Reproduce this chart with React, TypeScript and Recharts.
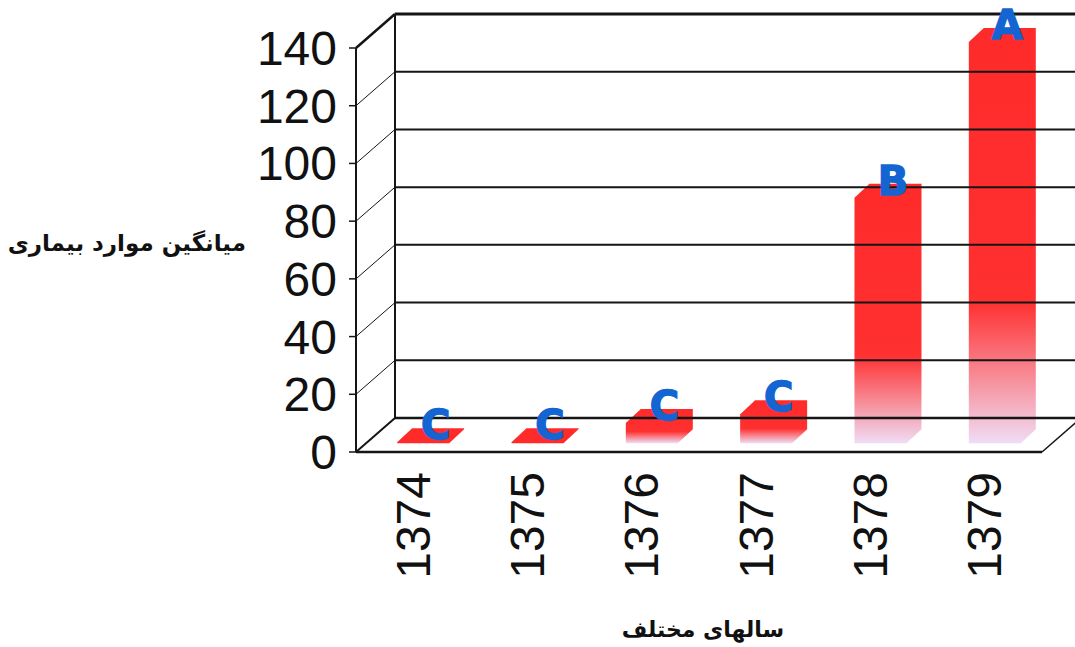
import { BarChart, Bar, XAxis, YAxis, ReferenceLine, ReferenceArea, LabelList } from 'recharts';

const years = ['1374', '1375', '1376', '1377', '1378', '1379'];
const meanCases = [0.3, 0.3, 7, 10, 85, 139];
const groups = ['C', 'C', 'C', 'C', 'B', 'A'];
const yTicks = [0, 20, 40, 60, 80, 100, 120, 140];

const data = years.map((year, i) => ({ year, mean: meanCases[i], group: groups[i] }));

// fake perspective: back wall offset, and where the bars sit in depth
const DX = 39;
const DY = -34;
const FRONT = 0.26;
const BAR_DX = 15;
const BAR_DY = -14;

const LINE = '#151515';

function renderGrid(p: any, v: number) {
  const { x1, y1, x2 } = p;
  const bx1 = x1 + DX;
  const bx2 = x2 + DX;
  const by = y1 + DY;
  if (v === 0) {
    return (
      <g>
        <line x1={x1} y1={y1} x2={x2} y2={y1} stroke={LINE} strokeWidth={2.5} />
        <line x1={x1} y1={y1} x2={bx1} y2={by} stroke={LINE} strokeWidth={2} />
        <line x1={x2} y1={y1} x2={bx2} y2={by} stroke={LINE} strokeWidth={1.5} />
        <line x1={bx1} y1={by} x2={bx2} y2={by} stroke={LINE} strokeWidth={2.5} />
      </g>
    );
  }
  const top = v === yTicks[yTicks.length - 1];
  return (
    <g>
      <line x1={x1} y1={y1} x2={bx1} y2={by} stroke={LINE} strokeWidth={top ? 2.5 : 1} />
      <line x1={bx1} y1={by} x2={bx2} y2={by} stroke={LINE} strokeWidth={top ? 3 : 2} />
    </g>
  );
}

function BackWall(p: any) {
  const { x, y, height } = p;
  return (
    <line x1={x + DX} y1={y + DY} x2={x + DX} y2={y + height + DY} stroke={LINE} strokeWidth={2} />
  );
}

function Bar3D(props: any) {
  const { x, y, width, height, index } = props;
  const fx = x + FRONT * DX;
  const ft = y + FRONT * DY;
  const fb = y + height + FRONT * DY;
  const pts = [
    [fx, fb],
    [fx, ft],
    [fx + BAR_DX, ft + BAR_DY],
    [fx + width + BAR_DX, ft + BAR_DY],
    [fx + width + BAR_DX, fb + BAR_DY],
    [fx + width, fb],
  ];
  const id = `bar3d-${index}`;
  const flat = height < 3;
  return (
    <g>
      <defs>
        <linearGradient id={id} x1="0" y1="0" x2="0" y2="1">
          <stop offset="0" stopColor="#ff2b2b" />
          <stop offset="0.66" stopColor="#ff3030" />
          <stop offset="0.88" stopColor="#f5a0ae" />
          <stop offset="1" stopColor="#f0dcf5" />
        </linearGradient>
      </defs>
      <polygon points={pts.map((pt) => pt.join(',')).join(' ')} fill={flat ? '#ff2b2b' : `url(#${id})`} />
    </g>
  );
}

function renderLetter(props: any) {
  const { x, y, width, value } = props;
  const cx = x + FRONT * DX + width / 2 + BAR_DX / 2 + 5;
  const cy = y + FRONT * DY + BAR_DY / 2;
  return (
    <text
      x={cx}
      y={cy + 4}
      textAnchor="middle"
      fontFamily="DejaVu Sans"
      fontWeight="bold"
      fontSize={40}
      fill="#1464d2"
      stroke="#1464d2"
      strokeWidth={1.5}
    >
      {value}
    </text>
  );
}

function YearTick(props: any) {
  const { x, y, payload } = props;
  return (
    <text
      x={x}
      y={y}
      transform={`rotate(-90, ${x}, ${y})`}
      textAnchor="end"
      dominantBaseline="central"
      fontFamily="Liberation Sans, Arial"
      fontSize={48}
      fill="#111"
    >
      {payload.value}
    </text>
  );
}

export default function App() {
  return (
    <div style={{ position: 'relative', width: 1075, height: 647, background: '#fff' }}>
      <style>{`body{margin:0}`}</style>
      <BarChart
        width={1075}
        height={647}
        data={data}
        margin={{ top: 48, right: 33, bottom: 0, left: 0 }}
        barSize={52}
      >
        <XAxis
          dataKey="year"
          height={195}
          axisLine={false}
          tickLine={false}
          tickSize={0}
          tickMargin={20}
          interval={0}
          tick={<YearTick />}
        />
        <YAxis
          width={356}
          domain={[0, 140]}
          ticks={yTicks}
          interval={0}
          axisLine={{ stroke: LINE, strokeWidth: 2 }}
          tickLine={{ stroke: LINE, strokeWidth: 1.5 }}
          tickSize={7}
          tickMargin={12}
          tick={{ fontSize: 48, fill: '#111', fontFamily: 'Liberation Sans, Arial' }}
        />
        <ReferenceArea y1={0} y2={140} shape={<BackWall />} ifOverflow="visible" />
        {yTicks.map((v) => (
          <ReferenceLine key={v} y={v} shape={(p: any) => renderGrid(p, v)} />
        ))}
        <Bar dataKey="mean" shape={<Bar3D />} isAnimationActive={false}>
          <LabelList dataKey="group" content={renderLetter} />
        </Bar>
      </BarChart>
      <div
        style={{
          position: 'absolute',
          left: 0,
          top: 230,
          width: 246,
          textAlign: 'right',
          direction: 'rtl',
          fontFamily: 'DejaVu Sans',
          fontWeight: 'bold',
          fontSize: 23,
          color: '#111',
          whiteSpace: 'nowrap',
        }}
      >
        میانگین موارد بیماری
      </div>
      <div
        style={{
          position: 'absolute',
          left: 603,
          top: 617,
          width: 200,
          textAlign: 'center',
          direction: 'rtl',
          fontFamily: 'DejaVu Sans',
          fontWeight: 'bold',
          fontSize: 22,
          color: '#111',
          whiteSpace: 'nowrap',
        }}
      >
        سالهای مختلف
      </div>
    </div>
  );
}
